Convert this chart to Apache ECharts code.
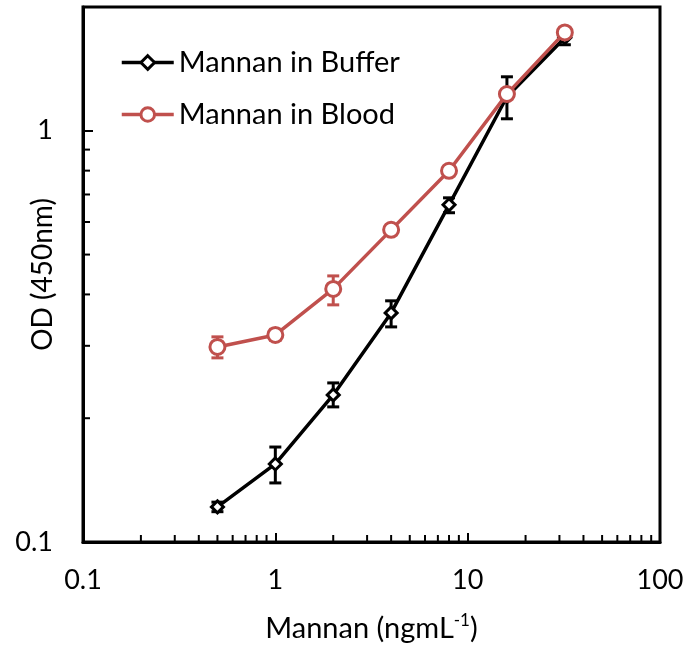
<!DOCTYPE html>
<html>
<head>
<meta charset="utf-8">
<script src="https://cdn.jsdelivr.net/npm/echarts@6/dist/echarts.min.js"></script>
<style>html,body{margin:0;padding:0;background:#fff;}#c{width:689px;height:645px;}</style>
</head>
<body>
<div id="c"></div>
<script>
const concentrations = [0.5, 1, 2, 4, 8, 16, 32];
const bufferOD   = [0.1217, 0.1548, 0.2279, 0.3607, 0.6607, 1.21, 1.684];
const bufferLow  = [0.1185, 0.1392, 0.2131, 0.3335, 0.632, 1.0695, 1.619];
const bufferHigh = [0.1250, 0.1702, 0.2437, 0.3859, 0.687, 1.353, 1.751];
const bloodOD    = [0.2981, 0.3188, 0.4126, 0.5742, 0.7993, 1.228, 1.735];
const bloodLow   = [0.2804, 0.309, 0.3773, 0.560, 0.785, 1.20, 1.70];
const bloodHigh  = [0.3154, 0.329, 0.4437, 0.590, 0.815, 1.26, 1.77];
const xTickLabels = ['0.1', '1', '10', '100'];
const yTickLabels = ['0.1', '1'];
const xMinorTicks = [0.2,0.3,0.4,0.5,0.6,0.7,0.8,0.9,2,3,4,5,6,7,8,9,20,30,40,50,60,70,80,90];
const yMinorTicks = [0.2,0.3,0.4,0.5,0.6,0.7,0.8,0.9,2];
const seriesNames = ['Mannan in Buffer', 'Mannan in Blood'];

const RED = '#C0504D';
const FONT = 'Lato';
const LW = 3.5;
const X_MIN = 0.1, X_MAX = 100, Y_MIN = 0.1, Y_MAX = 2;

function labelFor(list) {
  return function (v) {
    const l = Math.log10(v);
    if (Math.abs(l - Math.round(l)) > 1e-6) return '';
    const s = list.find(t => Math.abs(Math.log10(parseFloat(t)) - l) < 1e-6);
    return s || '';
  };
}

function errRender(color) {
  return function (params, api) {
    const x = api.value(0), lo = api.value(1), hi = api.value(2);
    const p1 = api.coord([x, lo]), p2 = api.coord([x, hi]);
    const w = 6;
    const st = { stroke: color, lineWidth: 3 };
    return { type: 'group', children: [
      { type: 'line', shape: { x1: p1[0], y1: p1[1], x2: p2[0], y2: p2[1] }, style: st },
      { type: 'line', shape: { x1: p1[0] - w, y1: p1[1], x2: p1[0] + w, y2: p1[1] }, style: st },
      { type: 'line', shape: { x1: p2[0] - w, y1: p2[1], x2: p2[0] + w, y2: p2[1] }, style: st }
    ]};
  };
}

const chart = echarts.init(document.getElementById('c'), null, { renderer: 'canvas' });
chart.setOption({
  animation: false,
  backgroundColor: '#fff',
  textStyle: { fontFamily: FONT, color: '#000' },
  grid: { left: 83, top: 7, right: 29, bottom: 103, show: true, borderColor: '#000', borderWidth: 3,
          containLabel: false, outerBoundsMode: 'none' },
  legend: {
    left: 120, top: 48, padding: 0, orient: 'vertical', itemWidth: 52, itemHeight: 17, itemGap: 23,
    textStyle: { fontSize: 29, fontFamily: FONT, color: '#000' },
    data: [
      { name: seriesNames[0], lineStyle: { width: LW, color: '#000' }, itemStyle: { borderWidth: 3, borderColor: '#000', color: '#fff' } },
      { name: seriesNames[1], lineStyle: { width: LW, color: RED }, itemStyle: { borderWidth: 3, borderColor: RED, color: '#fff' } }
    ]
  },
  xAxis: {
    type: 'log', logBase: 10, min: X_MIN, max: X_MAX,
    name: 'Mannan (ngmL{sup|-1})', nameLocation: 'middle', nameGap: 70, nameMoveOverlap: false,
    nameTextStyle: { fontSize: 29, fontFamily: FONT, color: '#000',
      rich: { sup: { fontSize: 17, fontFamily: FONT, color: '#000', padding: [0, 0, 16, 0] } } },
    axisLine: { show: true, lineStyle: { color: '#000', width: 3 } },
    axisTick: { show: true, inside: true, length: 9, lineStyle: { color: '#000', width: 2 } },
    axisLabel: { fontSize: 27, fontFamily: FONT, color: '#000', margin: 25, formatter: labelFor(xTickLabels) },
    splitLine: { show: false }
  },
  yAxis: {
    type: 'log', logBase: 10, min: Y_MIN, max: Y_MAX,
    name: 'OD (450nm)', nameLocation: 'middle', nameGap: 26, nameMoveOverlap: false,
    nameTextStyle: { fontSize: 28, fontFamily: FONT, color: '#000' },
    axisLine: { show: true, lineStyle: { color: '#000', width: 3 } },
    axisTick: { show: true, inside: true, length: 10, lineStyle: { color: '#000', width: 2 } },
    axisLabel: { fontSize: 27, fontFamily: FONT, color: '#000', margin: 30, formatter: labelFor(yTickLabels) },
    splitLine: { show: false }
  },
  series: [
    {
      type: 'custom', name: 'xMinor', silent: true, clip: false, z: 1,
      data: xMinorTicks.map(v => [v, Y_MIN]),
      encode: { x: 0, y: 1 },
      renderItem: function (params, api) {
        const p = api.coord([api.value(0), api.value(1)]);
        return { type: 'line', shape: { x1: p[0], y1: p[1], x2: p[0], y2: p[1] - 7 }, style: { stroke: '#000', lineWidth: 2 } };
      }
    },
    {
      type: 'custom', name: 'yMinor', silent: true, clip: false, z: 1,
      data: yMinorTicks.map(v => [X_MIN, v]),
      encode: { x: 0, y: 1 },
      renderItem: function (params, api) {
        const p = api.coord([api.value(0), api.value(1)]);
        return { type: 'line', shape: { x1: p[0], y1: p[1], x2: p[0] + 7, y2: p[1] }, style: { stroke: '#000', lineWidth: 2 } };
      }
    },
    {
      type: 'custom', name: 'bufferErr', silent: true, z: 2,
      data: concentrations.map((c, i) => [c, bufferLow[i], bufferHigh[i]]),
      encode: { x: 0, y: [1, 2] },
      renderItem: errRender('#000')
    },
    {
      type: 'line', name: seriesNames[0], z: 3,
      data: concentrations.map((c, i) => [c, bufferOD[i]]),
      symbol: 'diamond', symbolSize: 12, showAllSymbol: true,
      lineStyle: { color: '#000', width: LW },
      itemStyle: { color: '#fff', borderColor: '#000', borderWidth: 3 },
      emphasis: { disabled: true }
    },
    {
      type: 'custom', name: 'bloodErr', silent: true, z: 4,
      data: concentrations.map((c, i) => [c, bloodLow[i], bloodHigh[i]]),
      encode: { x: 0, y: [1, 2] },
      renderItem: errRender(RED)
    },
    {
      type: 'line', name: seriesNames[1], z: 5,
      data: concentrations.map((c, i) => [c, bloodOD[i]]),
      symbol: 'circle', symbolSize: 15, showAllSymbol: true,
      lineStyle: { color: RED, width: LW },
      itemStyle: { color: '#fff', borderColor: RED, borderWidth: 3 },
      emphasis: { disabled: true }
    }
  ]
});
</script>
</body>
</html>
